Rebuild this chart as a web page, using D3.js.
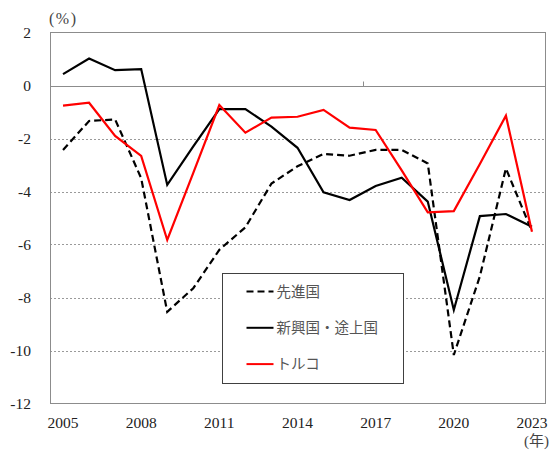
<!DOCTYPE html>
<html>
<head>
<meta charset="utf-8">
<script src="https://cdn.jsdelivr.net/npm/d3@7"></script>
<style>
  body { margin: 0; background: #fff; }
  svg { display: block; }
</style>
</head>
<body>
<div id="wrapper"></div>
<script>
const years = ["2005", "2006", "2007", "2008", "2009", "2010", "2011", "2012", "2013", "2014",
    "2015", "2016", "2017", "2018", "2019", "2020", "2021", "2022", "2023"];
const xTickLabels = ["2005", "2008", "2011", "2014", "2017", "2020", "2023"];
const yTicks = [2, 0, -2, -4, -6, -8, -10, -12];

// 先進国
const advanced = [-2.43, -1.34, -1.28, -3.5, -8.54, -7.65, -6.2, -5.35, -3.7, -3.05,
    -2.58, -2.65, -2.43, -2.43, -2.94, -10.17, -7.2, -3.13, -5.5];
// 新興国・途上国
const emerging = [0.43, 1.02, 0.58, 0.62, -3.75, -2.3, -0.89, -0.89, -1.55, -2.35,
    -4.03, -4.32, -3.79, -3.48, -4.38, -8.47, -4.93, -4.85, -5.33];
// トルコ
const turkey = [-0.76, -0.65, -1.9, -2.66, -5.83, -3.3, -0.74, -1.78, -1.21, -1.18,
    -0.92, -1.59, -1.68, -3.2, -4.79, -4.74, -2.96, -1.14, -5.52];

const seriesNames = ["先進国", "新興国・途上国", "トルコ"];

function drawChart() {
    const dimensions = {
        width: 551,
        height: 453,
        plot: { left: 50, right: 545, top: 32.5, bottom: 403.5 },
    };

    const series = [
        { name: seriesNames[0], values: advanced, color: "#000", dash: "7,4" },
        { name: seriesNames[1], values: emerging, color: "#000", dash: null },
        { name: seriesNames[2], values: turkey, color: "#ff0000", dash: null },
    ];

    const svg = d3.select("#wrapper").append("svg")
        .attr("width", dimensions.width)
        .attr("height", dimensions.height);

    // scales
    const xScale = d3.scalePoint()
        .domain(years)
        .range([dimensions.plot.left, dimensions.plot.right])
        .padding(0.5);
    const yScale = d3.scaleLinear()
        .domain([-12, 2])
        .range([dimensions.plot.bottom, dimensions.plot.top]);

    // dotted gridlines
    svg.append("g")
        .selectAll("line")
        .data(yTicks.filter(d => d < 0 && d > -12))
        .join("line")
        .attr("x1", dimensions.plot.left)
        .attr("x2", dimensions.plot.right)
        .attr("y1", d => Math.round(yScale(d)) + 0.5)
        .attr("y2", d => Math.round(yScale(d)) + 0.5)
        .attr("stroke", "#9a9a9a")
        .attr("stroke-width", 1)
        .attr("stroke-dasharray", "2,2");

    // plot border
    svg.append("rect")
        .attr("x", dimensions.plot.left + 0.5)
        .attr("y", dimensions.plot.top)
        .attr("width", dimensions.plot.right - dimensions.plot.left)
        .attr("height", dimensions.plot.bottom - dimensions.plot.top)
        .attr("fill", "none")
        .attr("stroke", "#8c8c8c");

    // zero line (category axis)
    const zeroY = Math.round(yScale(0)) + 0.5;
    svg.append("line")
        .attr("x1", dimensions.plot.left)
        .attr("x2", dimensions.plot.right)
        .attr("y1", zeroY)
        .attr("y2", zeroY)
        .attr("stroke", "#8c8c8c");
    // tick marks every 12 categories
    svg.append("g")
        .selectAll("line")
        .data(years.filter((d, i) => i % 12 === 0 && i > 0))
        .join("line")
        .attr("x1", d => Math.round(xScale(d) - xScale.step() / 2) + 0.5)
        .attr("x2", d => Math.round(xScale(d) - xScale.step() / 2) + 0.5)
        .attr("y1", zeroY)
        .attr("y2", zeroY - 5)
        .attr("stroke", "#8c8c8c");

    // y labels
    svg.append("g")
        .selectAll("text")
        .data(yTicks)
        .join("text")
        .attr("x", 31)
        .attr("y", d => yScale(d))
        .attr("dy", "0.35em")
        .attr("text-anchor", "end")
        .attr("font-family", "Liberation Serif")
        .attr("font-size", 15.5)
        .attr("fill", "#222")
        .text(d => d);

    // x labels
    svg.append("g")
        .selectAll("text")
        .data(xTickLabels)
        .join("text")
        .attr("x", d => xScale(d))
        .attr("y", 428)
        .attr("text-anchor", "middle")
        .attr("font-family", "Liberation Serif")
        .attr("font-size", 15.5)
        .attr("fill", "#222")
        .text(d => d);

    // unit labels
    svg.append("text")
        .attr("x", 49)
        .attr("y", 24)
        .attr("font-family", "Liberation Serif")
        .attr("font-size", 16)
        .attr("letter-spacing", 1.5)
        .attr("fill", "#444")
        .text("(%)");
    svg.append("text")
        .attr("x", 524)
        .attr("y", 446)
        .attr("font-family", "Liberation Serif, Noto Sans CJK JP")
        .attr("font-size", 15)
        .attr("fill", "#444")
        .text("(年)");

    // lines
    const lineGenerator = d3.line()
        .x((d, i) => xScale(years[i]))
        .y(d => yScale(d));
    svg.append("g")
        .selectAll("path")
        .data(series)
        .join("path")
        .attr("d", d => lineGenerator(d.values))
        .attr("fill", "none")
        .attr("stroke", d => d.color)
        .attr("stroke-width", 2.2)
        .attr("stroke-dasharray", d => d.dash);

    // legend
    const legend = svg.append("g")
        .attr("transform", "translate(222.5, 273.5)");
    legend.append("rect")
        .attr("width", 181)
        .attr("height", 110)
        .attr("fill", "#fff")
        .attr("stroke", "#404040");
    const legendRows = legend.selectAll("g")
        .data(series)
        .join("g")
        .attr("transform", (d, i) => `translate(0, ${18 + i * 36.3})`);
    legendRows.append("line")
        .attr("x1", 24)
        .attr("x2", 51)
        .attr("stroke", d => d.color)
        .attr("stroke-width", 2)
        .attr("stroke-dasharray", d => d.dash);
    legendRows.append("text")
        .attr("x", 54)
        .attr("dy", "0.36em")
        .attr("font-family", "Noto Sans CJK JP")
        .attr("font-size", 14.5)
        .attr("fill", "#555")
        .text(d => d.name);
}

drawChart();
</script>
</body>
</html>
